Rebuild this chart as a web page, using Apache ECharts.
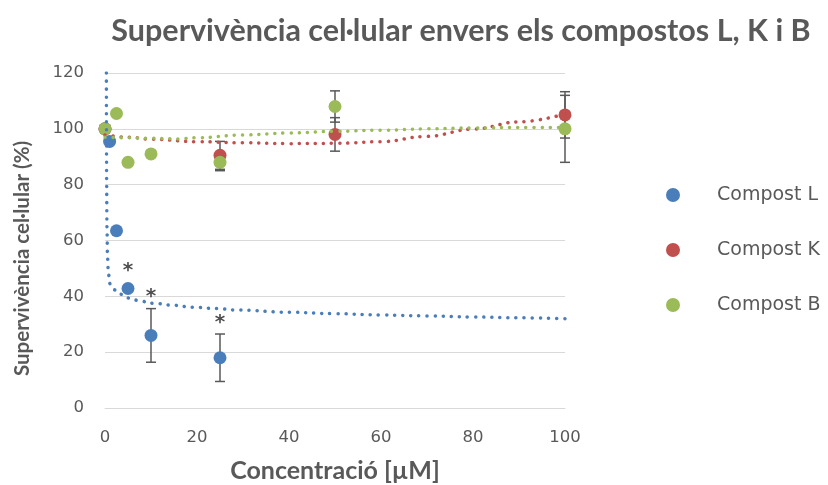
<!DOCTYPE html>
<html>
<head>
<meta charset="utf-8">
<script src="https://cdn.jsdelivr.net/npm/echarts@6/dist/echarts.min.js"></script>
<style>html,body{margin:0;padding:0;background:#fff}#c{width:828px;height:485px}</style>
</head>
<body>
<div id="c"></div>
<script>
// ---- data ----
const titleText = 'Supervivència cel·lular envers els compostos L, K i B';
const xTitle = 'Concentració [µM]';
const yTitle = 'Supervivència cel·lular (%)';
const seriesNames = ['Compost L', 'Compost K', 'Compost B'];

// [concentration, survival %]
const dataL = [[0, 100], [1, 95.5], [2.5, 63.5], [5, 42.8], [10, 26], [25, 18]];
const dataK = [[0, 100], [25, 90.5], [50, 98], [100, 105]];
const dataB = [[0, 100], [2.5, 105.5], [5, 88], [10, 91], [25, 88], [50, 108], [100, 100]];

// [concentration, survival %, error]
const errL = [[10, 26, 9.6], [25, 18, 8.5]];
const errK = [[25, 90.5, 5], [50, 98, 6], [100, 105, 8.3]];
const errB = [[25, 88, 3], [50, 108, 5.6], [100, 100, 12]];

// significance marks [concentration, height %]
const stars = [[5, 50.6], [10, 41.3], [25, 31.8]];

// trend lines
const trendL = [[0.3, 120], [0.32, 100], [0.36, 80], [0.42, 65], [0.55, 54], [0.75, 48], [1.1, 44.5], [2.2, 42.3], [3.6, 40.7], [5.4, 39.3], [7.6, 38.3], [10.5, 37.5], [14.8, 36.8], [19.2, 36.1], [24.3, 35.6], [28.6, 35.1], [40, 34.3], [50, 33.8], [60, 33.3], [70, 33], [80, 32.6], [90, 32.3], [100, 32]];
const trendK = [[0, 97.8], [5, 97], [10, 96.3], [20, 95.4], [30, 95], [40, 94.7], [50, 94.8], [60, 95.4], [70, 97.3], [80, 99.9], [90, 102.5], [100, 105.3]];
const trendB = [[0, 97], [5, 96.8], [10, 96.6], [16, 96.4], [20, 96.8], [30, 97.8], [40, 98.5], [50, 99.1], [60, 99.5], [70, 100], [80, 100.3], [90, 100.5], [100, 100.5]];

const xTicks = { min: 0, max: 100, interval: 20 };
const yTicks = { min: 0, max: 120, interval: 20 };

const colors = ['#4a7ebb', '#c0504d', '#9bbb59'];

// ---- chart ----
const chart = echarts.init(document.getElementById('c'));
const txt = '#595959';

function errSeries(data, color) {
  return {
    type: 'custom',
    z: 2,
    silent: true,
    data: data,
    renderItem: function (params, api) {
      const x = api.value(0), y = api.value(1), e = api.value(2);
      const top = api.coord([x, y + e]);
      const bot = api.coord([x, y - e]);
      const w = 5;
      const st = { stroke: '#595959', lineWidth: 1.5 };
      return {
        type: 'group',
        children: [
          { type: 'line', shape: { x1: top[0], y1: top[1], x2: bot[0], y2: bot[1] }, style: st },
          { type: 'line', shape: { x1: top[0] - w, y1: top[1], x2: top[0] + w, y2: top[1] }, style: st },
          { type: 'line', shape: { x1: bot[0] - w, y1: bot[1], x2: bot[0] + w, y2: bot[1] }, style: st }
        ]
      };
    }
  };
}

function trendSeries(name, data, color) {
  return {
    name: name, type: 'line', data: data, smooth: 0.4, smoothMonotone: 'x',
    showSymbol: false, symbol: 'none', z: 4, silent: true,
    lineStyle: { color: color, width: 3.5, type: [0.1, 8], cap: 'round' }
  };
}

function scatterSeries(name, data, color) {
  return {
    name: name, type: 'scatter', data: data, symbol: 'circle', symbolSize: 13, z: 3,
    itemStyle: { color: color, opacity: 1 }
  };
}

const option = {
  animation: false,
  backgroundColor: '#fff',
  title: {
    text: titleText, left: 456, top: 11, textAlign: 'center',
    textStyle: { fontFamily: 'Lato', fontWeight: 'bold', fontSize: 30.5, color: txt }
  },
  legend: {
    orient: 'vertical', left: 661, top: 180, itemWidth: 14, itemHeight: 14, itemGap: 35,
    icon: 'circle',
    data: seriesNames,
    textStyle: { fontFamily: 'DejaVu Sans', fontSize: 19, color: txt, lineHeight: 20, padding: [0, 0, 0, 32] }
  },
  grid: { left: 105, right: 263, top: 73, bottom: 77, containLabel: false, outerBoundsMode: 'none' },
  xAxis: {
    type: 'value', min: xTicks.min, max: xTicks.max, interval: xTicks.interval,
    name: xTitle, nameLocation: 'middle', nameGap: 50,
    nameTextStyle: { fontFamily: 'Lato', fontWeight: 'bold', fontSize: 25, color: txt },
    axisLine: { show: true, lineStyle: { color: '#d9d9d9', width: 1 } },
    axisTick: { show: false },
    splitLine: { show: false },
    axisLabel: { fontFamily: 'DejaVu Sans', fontSize: 16.5, color: txt, margin: 21 }
  },
  yAxis: {
    type: 'value', min: yTicks.min, max: yTicks.max, interval: yTicks.interval,
    name: yTitle, nameLocation: 'middle', nameGap: 72, nameRotate: 90,
    nameTextStyle: { fontFamily: 'Lato', fontWeight: 'bold', fontSize: 20.5, color: txt, padding: [0, 36, 0, 0] },
    axisLine: { show: false },
    axisTick: { show: false },
    splitLine: { show: true, lineStyle: { color: '#d9d9d9', width: 1 } },
    axisLabel: { fontFamily: 'DejaVu Sans', fontSize: 16.5, color: txt, margin: 21 }
  },
  series: [
    errSeries(errL, colors[0]),
    errSeries(errK, colors[1]),
    errSeries(errB, colors[2]),
    scatterSeries(seriesNames[0], dataL, colors[0]),
    scatterSeries(seriesNames[1], dataK, colors[1]),
    scatterSeries(seriesNames[2], dataB, colors[2]),
    trendSeries('trendL', trendL, colors[0]),
    trendSeries('trendK', trendK, colors[1]),
    trendSeries('trendB', trendB, colors[2]),
    {
      name: 'stars', type: 'scatter', data: stars, symbolSize: 1, z: 5, silent: true,
      itemStyle: { color: 'rgba(0,0,0,0)' },
      label: {
        show: true, formatter: '*', position: 'inside', offset: [0, 4],
        fontFamily: 'DejaVu Sans', fontWeight: 'bold', fontSize: 20, color: '#222'
      }
    }
  ]
};
chart.setOption(option);
</script>
</body>
</html>
